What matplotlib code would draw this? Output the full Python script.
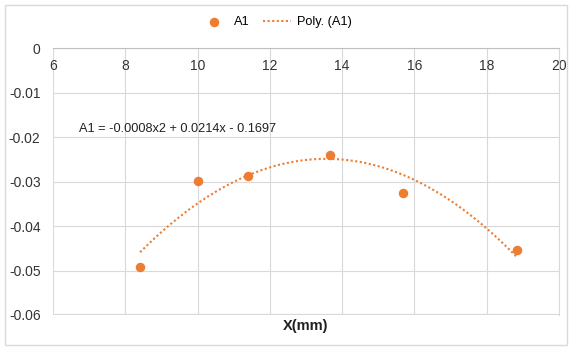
import numpy as np
import matplotlib
matplotlib.use('Agg')
import matplotlib.pyplot as plt
from matplotlib.patches import Rectangle

# data
x_mm = [8.41, 10.0, 11.40, 13.66, 15.67, 18.85]
a1 = [-0.0493, -0.0299, -0.0287, -0.0240, -0.0325, -0.0455]
equation = 'A1 = -0.0008x2 + 0.0214x - 0.1697'

orange = '#ED7D31'
grid_c = '#d9d9d9'
plt.rcParams['font.family'] = ['Liberation Sans', 'DejaVu Sans']

fig = plt.figure(figsize=(5.72, 3.47), dpi=100)
ax = fig.add_axes([53/572, 1 - 315/347, (559-53)/572, (315-48)/347])

# trendline (2nd order polynomial)
coef = np.polyfit(x_mm, a1, 2)
xs = np.linspace(min(x_mm), max(x_mm), 200)
trend, = ax.plot(xs, np.polyval(coef, xs), color=orange, linestyle=(0, (1, 1.2)),
                 linewidth=1.5, label='Poly. (A1)', zorder=2)
pts = ax.scatter(x_mm, a1, s=34, color=orange, label='A1', zorder=3)

ax.set_xlim(6, 20)
ax.set_ylim(-0.06, 0)
ax.set_xticks(np.arange(6, 21, 2))
ax.set_yticks(np.arange(-0.06, 0.001, 0.01))
ax.set_yticklabels(['-0.06', '-0.05', '-0.04', '-0.03', '-0.02', '-0.01', '0'])
ax.grid(True, color=grid_c, linewidth=0.8)
ax.set_axisbelow(True)

ax.spines['left'].set_visible(False)
ax.spines['top'].set_visible(False)
ax.spines['right'].set_color(grid_c)
ax.spines['right'].set_linewidth(0.8)
ax.spines['bottom'].set_position(('data', 0))
ax.spines['bottom'].set_color('#bfbfbf')
# bottom border line at -0.06
ax.axhline(-0.06, color=grid_c, linewidth=1.6, zorder=0)

ax.tick_params(axis='both', length=0, labelsize=10, colors='#333333')
ax.tick_params(axis='x', pad=8)
ax.tick_params(axis='y', pad=9)

ax.text(6 + (79 - 53) / 36.14, -0.0188, equation, fontsize=9.2, color='#202020')

fig.text(306/572, 1 - 326/347, 'X(mm)', ha='center', va='center',
         fontsize=10.5, fontweight='bold', color='#202020')

leg = ax.legend([pts, trend], ['A1', 'Poly. (A1)'], loc='center',
                frameon=False, ncol=2, fontsize=9.2, handlelength=2.2,
                columnspacing=1.0, handletextpad=0.5)
leg.set_bbox_to_anchor((276/572, 1 - 22/347), transform=fig.transFigure)

fig.patches.append(Rectangle((5/572, 2/347), 562/572, 340/347, transform=fig.transFigure,
                             fill=False, edgecolor=grid_c, linewidth=1))

fig.savefig('out.png', dpi=100)
